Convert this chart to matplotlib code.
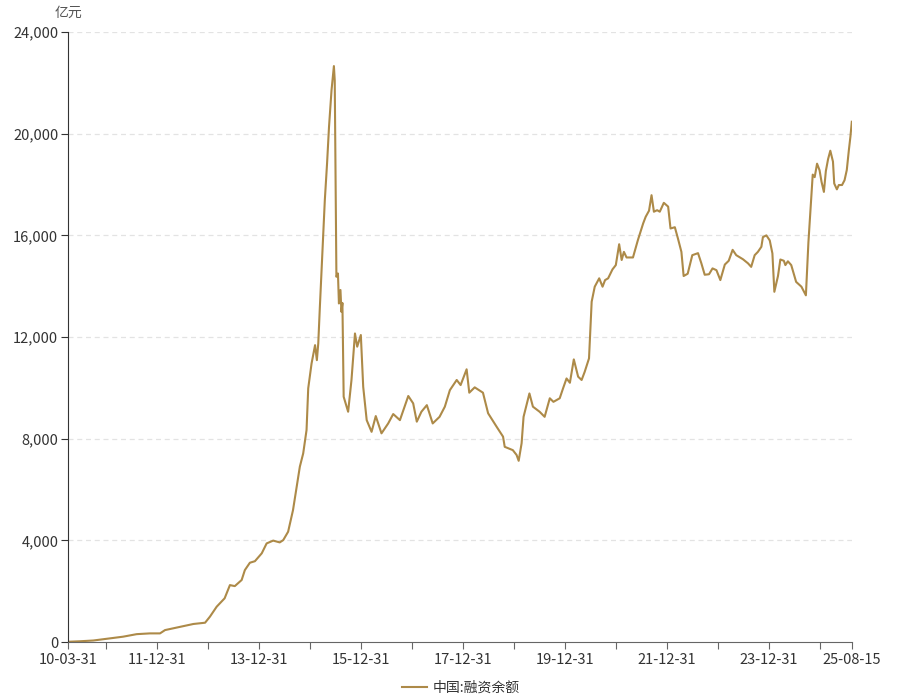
import pandas as pd
import numpy as np
import matplotlib
matplotlib.use('Agg')
import matplotlib.pyplot as plt
import matplotlib.dates as mdates
from matplotlib.ticker import FuncFormatter

plt.rcParams['font.family'] = ['Noto Sans CJK SC', 'DejaVu Sans']

# 中国:融资余额 (亿元), values
dates = [
    '2010-03-31', '2010-06-24', '2010-09-28', '2011-01-03', '2011-04-29', '2011-08-05',
    '2011-11-08', '2012-01-19', '2012-02-24', '2012-06-11', '2012-09-14', '2012-12-07',
    '2013-01-11', '2013-02-28', '2013-04-26', '2013-06-03', '2013-07-08', '2013-08-26',
    '2013-09-18', '2013-10-24', '2013-11-29', '2014-01-17', '2014-02-21', '2014-04-09',
    '2014-05-26', '2014-06-20', '2014-07-25', '2014-08-29', '2014-09-24', '2014-10-17',
    '2014-11-10', '2014-12-04', '2014-12-16', '2015-01-09', '2015-02-03', '2015-02-16',
    '2015-02-26', '2015-03-09', '2015-04-02', '2015-04-14', '2015-04-30', '2015-05-14',
    '2015-06-01', '2015-06-18', '2015-06-24', '2015-07-06', '2015-07-17', '2015-07-24',
    '2015-08-04', '2015-08-11', '2015-08-18', '2015-08-27', '2015-09-28', '2015-10-22',
    '2015-11-16', '2015-12-02', '2015-12-28', '2016-01-14', '2016-02-08', '2016-03-14',
    '2016-04-13', '2016-05-24', '2016-07-11', '2016-08-16', '2016-10-03', '2016-12-02',
    '2017-01-06', '2017-02-01', '2017-03-06', '2017-04-14', '2017-05-26', '2017-07-14',
    '2017-08-21', '2017-09-26', '2017-11-14', '2017-12-12', '2018-01-24', '2018-02-12',
    '2018-03-23', '2018-05-21', '2018-06-27', '2018-08-27', '2018-10-12', '2018-10-24',
    '2018-12-21', '2019-01-17', '2019-02-01', '2019-02-22', '2019-03-08', '2019-04-19',
    '2019-05-14', '2019-07-01', '2019-08-06', '2019-09-12', '2019-10-08', '2019-11-22',
    '2019-12-16', '2020-01-10', '2020-02-03', '2020-03-02', '2020-04-02', '2020-04-27',
    '2020-05-19', '2020-06-19', '2020-07-08', '2020-07-30', '2020-08-31', '2020-09-24',
    '2020-10-12', '2020-11-03', '2020-12-04', '2020-12-28', '2021-01-21', '2021-02-08',
    '2021-02-24', '2021-03-15', '2021-04-30', '2021-06-04', '2021-07-12', '2021-07-30',
    '2021-08-23', '2021-09-10', '2021-09-27', '2021-10-20', '2021-11-08', '2021-12-07',
    '2022-01-07', '2022-01-24', '2022-02-24', '2022-03-18', '2022-04-12', '2022-04-28',
    '2022-05-27', '2022-06-29', '2022-08-09', '2022-09-02', '2022-09-26', '2022-10-27',
    '2022-11-21', '2022-12-19', '2023-01-16', '2023-02-17', '2023-03-17', '2023-04-14',
    '2023-05-10', '2023-06-27', '2023-08-02', '2023-08-25', '2023-09-19', '2023-10-12',
    '2023-11-06', '2023-11-17', '2023-12-12', '2024-01-05', '2024-01-24', '2024-02-07',
    '2024-03-04', '2024-03-21', '2024-04-15', '2024-04-26', '2024-05-14', '2024-06-07',
    '2024-07-12', '2024-08-19', '2024-09-20', '2024-10-08', '2024-10-22', '2024-11-08',
    '2024-11-22', '2024-12-09', '2024-12-27', '2025-01-10', '2025-01-27', '2025-02-10',
    '2025-02-26', '2025-03-14', '2025-04-02', '2025-04-11', '2025-04-30', '2025-05-14',
    '2025-06-06', '2025-06-24', '2025-07-10', '2025-07-25', '2025-08-05', '2025-08-15',
]
balance = [
    10, 30, 60, 130, 210, 310,
    340, 340, 470, 600, 710, 760,
    1000, 1390, 1720, 2240, 2200, 2440,
    2830, 3120, 3180, 3490, 3880, 3990,
    3920, 4010, 4340, 5190, 6110, 6900,
    7420, 8340, 9980, 10960, 11680, 11090,
    11750, 13130, 15940, 17390, 18830, 20270,
    21710, 22660, 22100, 14370, 14500, 13320,
    13850, 12990, 13340, 9650, 9060, 10310,
    12140, 11620, 12080, 10040, 8730, 8270,
    8890, 8210, 8600, 8970, 8730, 9680,
    9390, 8670, 9060, 9320, 8600, 8860,
    9260, 9910, 10310, 10110, 10730, 9810,
    10020, 9810, 9000, 8470, 8080, 7680,
    7550, 7360, 7130, 7820, 8860, 9780,
    9260, 9060, 8860, 9590, 9450, 9590,
    9980, 10370, 10200, 11120, 10440, 10310,
    10630, 11160, 13390, 13980, 14310, 13980,
    14240, 14310, 14660, 14830, 15650, 15030,
    15350, 15130, 15130, 15810, 16470, 16730,
    16970, 17580, 16930, 16990, 16930, 17280,
    17130, 16270, 16320, 15880, 15350, 14400,
    14490, 15220, 15300, 14900, 14450, 14470,
    14700, 14630, 14240, 14850, 15000, 15430,
    15220, 15060, 14900, 14760, 15220, 15350,
    15550, 15930, 16000, 15800, 15290, 13780,
    14400, 15050, 15000, 14830, 14980, 14830,
    14170, 13980, 13640, 15720, 16900, 18390,
    18290, 18820, 18560, 18110, 17710, 18530,
    19000, 19330, 18900, 18040, 17810, 17980,
    17980, 18170, 18570, 19360, 19880, 20470,
]

y_ticks = [0, 4000, 8000, 12000, 16000, 20000, 24000]
x_label_dates = ['2010-03-31', '2011-12-31', '2013-12-31', '2015-12-31', '2017-12-31',
                 '2019-12-31', '2021-12-31', '2023-12-31', '2025-08-15']
x_tick_dates = ['2010-03-31'] + [f'{y}-12-31' for y in range(2010, 2025)] + ['2025-08-15']

line_color = '#AD8A48'

df = pd.DataFrame({'date': pd.to_datetime(dates), 'value': balance})

fig = plt.figure(figsize=(9.12, 6.99), dpi=100)
ax = fig.add_axes([0.0746, 0.0815, 0.8594, 0.8727])

ax.plot(df['date'], df['value'], color=line_color, lw=1.5, label='中国:融资余额')

ax.set_xlim(pd.Timestamp('2010-03-31'), pd.Timestamp('2025-08-15'))
ax.set_ylim(0, 24000)

ax.set_yticks(y_ticks)
ax.yaxis.set_major_formatter(FuncFormatter(lambda v, p: f'{int(v):,}'))
for v in y_ticks[1:]:
    ax.axhline(v, color='#E3E3E3', lw=0.9, ls=(0, (4, 3)), zorder=0)

# major ticks each year end, labels only every other year
tick_pos = pd.to_datetime(x_tick_dates)
ax.set_xticks(tick_pos)
label_set = set(pd.to_datetime(x_label_dates))
ax.set_xticklabels([d.strftime('%y-%m-%d') if d in label_set else '' for d in tick_pos])

for s in ['top', 'right']:
    ax.spines[s].set_visible(False)
ax.spines['left'].set_color('#333333')
ax.spines['bottom'].set_color('#666666')
ax.tick_params(axis='y', length=5, color='#333333', labelsize=10.5, labelcolor='#333333', pad=2)
ax.tick_params(axis='x', length=5, color='#666666', labelsize=10.5, labelcolor='#333333', pad=3)

fig.text(0.0746, 0.982, '亿元', ha='center', va='center', fontsize=10, color='#555555')

fig.legend(loc='center', bbox_to_anchor=(0.505, 0.016), frameon=False, fontsize=10,
           handlelength=1.8, handletextpad=0.4, labelcolor='#333333')

fig.savefig('out.png', dpi=100)
